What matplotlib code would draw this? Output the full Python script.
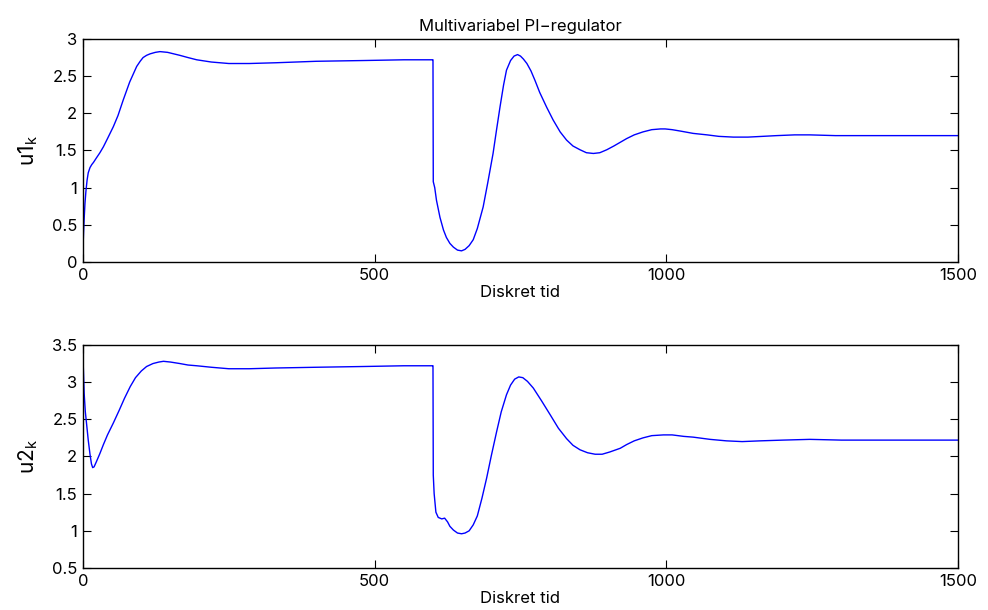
import matplotlib
matplotlib.use('Agg')
import matplotlib.pyplot as plt

plt.rcParams['font.family'] = ['Inter', 'Liberation Sans', 'DejaVu Sans']
plt.rcParams['mathtext.fontset'] = 'custom'
plt.rcParams['mathtext.rm'] = 'Inter'
plt.rcParams['mathtext.default'] = 'regular'

# u1_k
k1 = [0, 1, 2, 3.4, 5, 7, 9, 12, 15, 18, 23, 29, 35, 42, 52, 60, 69, 80, 92, 98, 103, 109, 115,
      124, 132, 145, 166, 180, 195, 220, 250, 285, 330, 400, 480, 550, 599,
      600, 600.5, 603, 606, 612, 618, 623, 629, 635, 642, 649, 655, 662, 669, 676, 686, 694, 703,
      709, 715, 721, 726, 733, 739, 745, 750, 755, 761, 768, 775, 783, 795, 806, 818, 829, 840,
      852, 863, 875, 886, 898, 910, 921, 932, 945, 960, 975, 990, 998, 1010, 1025, 1046, 1070,
      1090, 1115, 1140, 1165, 1189, 1220, 1246, 1290, 1350, 1420, 1500]
u1 = [0.19, 0.40, 0.58, 0.79, 0.95, 1.10, 1.20, 1.27, 1.31, 1.34, 1.40, 1.47, 1.55, 1.66, 1.82,
      1.97, 2.18, 2.42, 2.63, 2.70, 2.75, 2.78, 2.80, 2.82, 2.83, 2.82, 2.78, 2.75, 2.72, 2.69,
      2.67, 2.67, 2.68, 2.70, 2.71, 2.72, 2.72,
      2.72, 1.08, 1.00, 0.83, 0.60, 0.43, 0.33, 0.25, 0.20, 0.16, 0.15, 0.17, 0.22, 0.30, 0.45,
      0.74, 1.07, 1.46, 1.78, 2.09, 2.38, 2.58, 2.71, 2.77, 2.79, 2.77, 2.73, 2.67, 2.57, 2.44,
      2.28, 2.08, 1.91, 1.75, 1.64, 1.56, 1.51, 1.47, 1.46, 1.47, 1.51, 1.56, 1.61, 1.66, 1.71,
      1.75, 1.78, 1.79, 1.79, 1.78, 1.76, 1.73, 1.71, 1.69, 1.68, 1.68, 1.69, 1.70, 1.71, 1.71,
      1.70, 1.70, 1.70, 1.70]

# u2_k
k2 = [0, 1, 2, 4, 6, 9, 12, 14.5, 16.6, 19, 23, 29, 35, 42, 52, 62, 71, 81, 90, 100, 109, 120,
      130, 138, 150, 166, 180, 195, 220, 250, 285, 330, 400, 480, 550, 599,
      600, 600.5, 602, 605, 609, 615, 620, 625, 629, 635, 642, 649, 655, 662, 669, 676, 684, 692,
      700, 709, 717, 726, 733, 740, 747, 754, 762, 772, 786, 801, 815, 829, 840, 852, 865, 878,
      890, 903, 921, 932, 945, 960, 975, 995, 1010, 1030, 1046, 1075, 1103, 1130, 1161, 1200,
      1246, 1300, 1380, 1450, 1500]
u2 = [3.32, 3.10, 2.85, 2.60, 2.45, 2.22, 2.03, 1.90, 1.85, 1.86, 1.93, 2.04, 2.16, 2.29, 2.45,
      2.62, 2.78, 2.94, 3.06, 3.15, 3.21, 3.25, 3.27, 3.28, 3.27, 3.25, 3.23, 3.22, 3.20, 3.18,
      3.18, 3.19, 3.20, 3.21, 3.22, 3.22,
      3.22, 1.75, 1.50, 1.25, 1.18, 1.16, 1.17, 1.12, 1.06, 1.01, 0.97, 0.96, 0.97, 1.00, 1.08,
      1.20, 1.44, 1.71, 2.01, 2.33, 2.60, 2.83, 2.96, 3.04, 3.07, 3.06, 3.01, 2.92, 2.75, 2.56,
      2.38, 2.24, 2.15, 2.09, 2.05, 2.03, 2.03, 2.06, 2.11, 2.16, 2.21, 2.25, 2.28, 2.29, 2.29,
      2.27, 2.26, 2.23, 2.21, 2.20, 2.21, 2.22, 2.23, 2.22, 2.22, 2.22, 2.22]

fig = plt.figure(figsize=(9.88, 6.10), dpi=100)
ax1 = fig.add_axes([0.084, 0.5705, 0.8856, 0.3656])
ax2 = fig.add_axes([0.084, 0.0689, 0.8856, 0.3656])

for ax, k, u, ylab, ylim, yt in [
        (ax1, k1, u1, 'u1$_{k}$', (0, 3), [0, 0.5, 1, 1.5, 2, 2.5, 3]),
        (ax2, k2, u2, 'u2$_{k}$', (0.5, 3.5), [0.5, 1, 1.5, 2, 2.5, 3, 3.5])]:
    ax.plot(k, u, color='#0000ff', lw=1.0)
    ax.set_xlim(0, 1500)
    ax.set_ylim(*ylim)
    ax.set_xticks([0, 500, 1000, 1500])
    ax.set_yticks(yt)
    ax.set_yticklabels([('%g' % v) for v in yt])
    ax.tick_params(direction='in', top=True, right=True, length=6, width=0.8,
                   labelsize=12, pad=4)
    ax.set_xlabel('Diskret tid', fontsize=12, labelpad=2)
    ax.set_ylabel(ylab, fontsize=15, labelpad=9)
    for s in ax.spines.values():
        s.set_linewidth(1.0)

ax1.set_title('Multivariabel PI\u2212regulator', fontsize=12, pad=6)

fig.savefig('out.png', dpi=100)
